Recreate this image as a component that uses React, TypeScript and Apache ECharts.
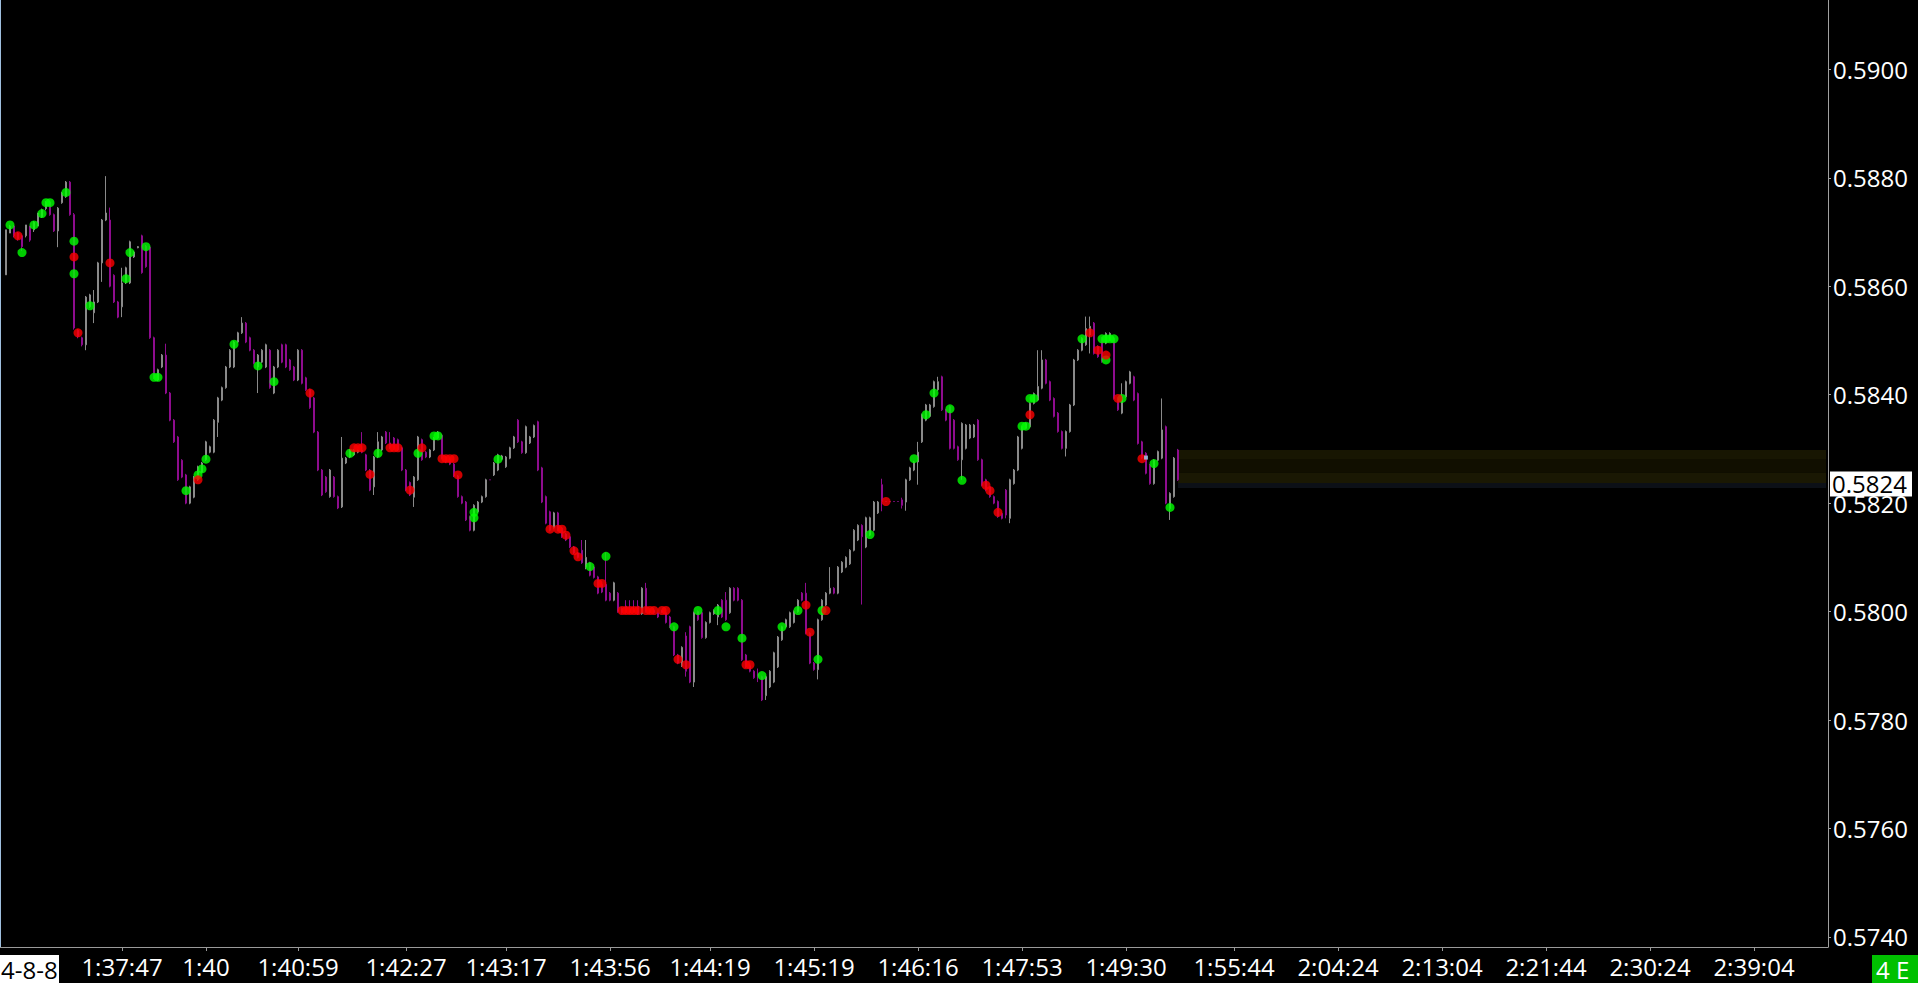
import React, { useEffect, useRef } from 'react';
import * as echarts from 'echarts';

// ---- data ----
const firstBar = 1;
const categoryCount = 457;

const opens = [
0.58621,0.58698,0.58711,0.58698,0.58693,0.58693,0.58711,0.58704,0.58711,0.58728,
0.58743,0.58755,0.58732,0.58702,0.58754,0.58765,0.58792,0.58732,0.58519,0.58505,
0.58492,0.58562,0.58551,0.58571,0.58643,0.58722,0.58722,0.58620,0.58571,0.58562,
0.58606,0.58606,0.58654,0.58671,0.58693,0.58674,0.58672,0.58505,0.58427,0.58451,
0.58473,0.58403,0.58353,0.58322,0.58279,0.58252,0.58200,0.58211,0.58243,0.58257,
0.58280,0.58294,0.58294,0.58349,0.58390,0.58413,0.58451,0.58451,0.58497,0.58514,
0.58532,0.58505,0.58482,0.58451,0.58460,0.58451,0.58482,0.58403,0.58451,0.58492,
0.58492,0.58464,0.58451,0.58427,0.58482,0.58431,0.58409,0.58394,0.58331,0.58261,
0.58248,0.58212,0.58248,0.58212,0.58193,0.58274,0.58285,0.58289,0.58294,0.58298,
0.58289,0.58261,0.58230,0.58285,0.58298,0.58331,0.58311,0.58320,0.58317,0.58302,
0.58261,0.58238,0.58211,0.58243,0.58317,0.58294,0.58285,0.58298,0.58320,0.58325,
0.58285,0.58281,0.58272,0.58250,0.58212,0.58202,0.58175,0.58150,0.58184,0.58202,
0.58212,0.58243,0.58252,0.58261,0.58281,0.58267,0.58283,0.58302,0.58353,0.58313,
0.58293,0.58311,0.58322,0.58350,0.58265,0.58212,0.58184,0.58154,0.58182,0.58154,
0.58143,0.58138,0.58119,0.58108,0.58113,0.58082,0.58090,0.58082,0.58064,0.58050,
0.58050,0.58034,0.58021,0.58034,0.58006,0.58010,0.58004,0.58004,0.58010,0.57996,
0.58043,0.58002,0.58002,0.57998,0.58001,0.57998,0.57990,0.57972,0.57920,0.57900,
0.57955,0.57972,0.57870,0.58000,0.57998,0.57952,0.57980,0.57996,0.57990,0.58021,
0.58021,0.57998,0.58043,0.58043,0.58021,0.57920,0.57900,0.57890,0.57885,0.57880,
0.57845,0.57861,0.57870,0.57898,0.57948,0.57972,0.57972,0.57980,0.58000,0.58034,
0.58034,0.57960,0.57905,0.57893,0.57985,0.58012,0.58034,0.58043,0.58034,0.58073,
0.58082,0.58088,0.58113,0.58132,0.58159,0.58119,0.58141,0.58150,0.58182,0.58234,
0.58203,0.58203,0.58203,0.58203,0.58206,0.58202,0.58243,0.58261,0.58276,0.58313,
0.58353,0.58360,0.58378,0.58409,0.58433,0.58372,0.58378,0.58353,0.58304,0.58280,
0.58301,0.58320,0.58322,0.58353,0.58280,0.58243,0.58230,0.58212,0.58203,0.58181,
0.58224,0.58172,0.58236,0.58261,0.58301,0.58338,0.58341,0.58384,0.58390,0.58412,
0.58464,0.58424,0.58393,0.58366,0.58332,0.58301,0.58332,0.58381,0.58464,0.58482,
0.58492,0.58510,0.58532,0.58489,0.58504,0.58495,0.58501,0.58504,0.58393,0.58366,
0.58396,0.58421,0.58433,0.58402,0.58313,0.58292,0.58270,0.58236,0.58279,0.58283,
0.58341,0.58190,0.58212,0.58298
];

const closes = [
0.58704,0.58711,0.58693,0.58687,0.58673,0.58713,0.58685,0.58718,0.58735,0.58741,
0.58755,0.58732,0.58702,0.58744,0.58772,0.58792,0.58732,0.58523,0.58507,0.58492,
0.58580,0.58584,0.58571,0.58643,0.58722,0.58735,0.58600,0.58571,0.58543,0.58606,
0.58634,0.58682,0.58663,0.58673,0.58625,0.58636,0.58505,0.58431,0.58446,0.58473,
0.58403,0.58353,0.58313,0.58243,0.58248,0.58200,0.58230,0.58248,0.58267,0.58274,
0.58313,0.58304,0.58353,0.58394,0.58413,0.58451,0.58482,0.58497,0.58514,0.58532,
0.58497,0.58482,0.58458,0.58473,0.58482,0.58492,0.58413,0.58451,0.58482,0.58460,
0.58451,0.58446,0.58427,0.58482,0.58421,0.58409,0.58376,0.58331,0.58261,0.58215,
0.58221,0.58261,0.58212,0.58191,0.58283,0.58283,0.58298,0.58298,0.58298,0.58294,
0.58261,0.58224,0.58285,0.58313,0.58322,0.58311,0.58302,0.58300,0.58298,0.58261,
0.58224,0.58215,0.58248,0.58322,0.58280,0.58285,0.58298,0.58320,0.58331,0.58283,
0.58276,0.58272,0.58250,0.58212,0.58200,0.58169,0.58150,0.58196,0.58202,0.58212,
0.58243,0.58243,0.58274,0.58289,0.58287,0.58285,0.58302,0.58322,0.58313,0.58293,
0.58341,0.58322,0.58343,0.58261,0.58202,0.58163,0.58150,0.58182,0.58150,0.58138,
0.58132,0.58119,0.58108,0.58100,0.58090,0.58100,0.58067,0.58063,0.58034,0.58036,
0.58021,0.58021,0.58053,0.58000,0.57998,0.57998,0.57998,0.58000,0.57996,0.58043,
0.58000,0.57998,0.57998,0.57990,0.57999,0.57980,0.57972,0.57920,0.57905,0.57934,
0.57890,0.57870,0.57998,0.57985,0.57952,0.57980,0.57998,0.58002,0.58012,0.57990,
0.57985,0.58043,0.58021,0.58021,0.57911,0.57898,0.57890,0.57878,0.57880,0.57837,
0.57880,0.57890,0.57924,0.57953,0.57972,0.57985,0.57998,0.58000,0.58021,0.58021,
0.57960,0.57905,0.57893,0.57985,0.58021,0.58034,0.58043,0.58034,0.58082,0.58091,
0.58100,0.58113,0.58150,0.58159,0.58138,0.58173,0.58173,0.58202,0.58202,0.58203,
0.58203,0.58203,0.58203,0.58203,0.58196,0.58243,0.58265,0.58276,0.58294,0.58363,
0.58381,0.58381,0.58424,0.58424,0.58372,0.58353,0.58301,0.58301,0.58280,0.58347,
0.58344,0.58344,0.58344,0.58280,0.58233,0.58224,0.58212,0.58200,0.58175,0.58172,
0.58178,0.58243,0.58261,0.58322,0.58341,0.58347,0.58384,0.58402,0.58415,0.58464,
0.58421,0.58390,0.58360,0.58332,0.58301,0.58332,0.58381,0.58464,0.58482,0.58504,
0.58522,0.58526,0.58476,0.58470,0.58461,0.58513,0.58513,0.58393,0.58372,0.58396,
0.58424,0.58442,0.58390,0.58310,0.58283,0.58255,0.58236,0.58279,0.58295,0.58335,
0.58200,0.58218,0.58283,0.58243
];

const lows = [
0.58621,0.58698,0.58690,0.58684,0.58665,0.58690,0.58682,0.58700,0.58711,0.58726,
0.58740,0.58730,0.58700,0.58672,0.58752,0.58763,0.58730,0.58520,0.58504,0.58489,
0.58482,0.58560,0.58532,0.58569,0.58608,0.58720,0.58598,0.58569,0.58541,0.58543,
0.58604,0.58604,0.58652,0.58670,0.58623,0.58634,0.58503,0.58429,0.58425,0.58449,
0.58401,0.58351,0.58311,0.58241,0.58246,0.58198,0.58198,0.58209,0.58241,0.58255,
0.58278,0.58292,0.58292,0.58322,0.58388,0.58411,0.58449,0.58449,0.58495,0.58512,
0.58495,0.58480,0.58456,0.58403,0.58458,0.58449,0.58411,0.58401,0.58449,0.58458,
0.58449,0.58444,0.58425,0.58425,0.58419,0.58407,0.58374,0.58329,0.58259,0.58213,
0.58219,0.58210,0.58210,0.58189,0.58191,0.58272,0.58283,0.58287,0.58292,0.58292,
0.58259,0.58222,0.58215,0.58283,0.58296,0.58309,0.58300,0.58298,0.58296,0.58259,
0.58222,0.58213,0.58193,0.58241,0.58278,0.58283,0.58283,0.58296,0.58318,0.58281,
0.58274,0.58270,0.58248,0.58210,0.58198,0.58167,0.58148,0.58148,0.58182,0.58200,
0.58210,0.58243,0.58250,0.58259,0.58279,0.58265,0.58281,0.58300,0.58311,0.58291,
0.58291,0.58309,0.58320,0.58259,0.58200,0.58161,0.58148,0.58152,0.58148,0.58136,
0.58130,0.58117,0.58106,0.58098,0.58088,0.58078,0.58065,0.58061,0.58032,0.58034,
0.58019,0.58019,0.58019,0.57998,0.57996,0.57996,0.57996,0.57998,0.57994,0.57994,
0.57998,0.57996,0.57996,0.57988,0.57997,0.57978,0.57970,0.57918,0.57903,0.57898,
0.57880,0.57868,0.57861,0.57983,0.57950,0.57950,0.57978,0.57994,0.57975,0.57988,
0.57983,0.57996,0.58019,0.58019,0.57909,0.57896,0.57888,0.57876,0.57870,0.57835,
0.57837,0.57859,0.57868,0.57896,0.57946,0.57970,0.57970,0.57978,0.57998,0.58019,
0.57958,0.57903,0.57891,0.57875,0.57983,0.58010,0.58032,0.58032,0.58032,0.58071,
0.58080,0.58086,0.58111,0.58130,0.58013,0.58117,0.58139,0.58148,0.58180,0.58185,
0.58203,0.58203,0.58203,0.58203,0.58190,0.58186,0.58241,0.58259,0.58234,0.58311,
0.58351,0.58358,0.58376,0.58407,0.58370,0.58351,0.58299,0.58299,0.58278,0.58243,
0.58299,0.58318,0.58320,0.58278,0.58231,0.58222,0.58210,0.58198,0.58173,0.58170,
0.58172,0.58163,0.58234,0.58259,0.58299,0.58336,0.58339,0.58382,0.58388,0.58410,
0.58419,0.58388,0.58358,0.58330,0.58299,0.58286,0.58330,0.58379,0.58462,0.58480,
0.58490,0.58476,0.58474,0.58468,0.58459,0.58493,0.58499,0.58391,0.58370,0.58364,
0.58394,0.58419,0.58388,0.58308,0.58281,0.58253,0.58234,0.58234,0.58277,0.58281,
0.58198,0.58169,0.58210,0.58241
];

const highs = [
0.58704,0.58713,0.58713,0.58700,0.58695,0.58713,0.58711,0.58720,0.58735,0.58743,
0.58757,0.58757,0.58734,0.58746,0.58774,0.58794,0.58794,0.58735,0.58521,0.58507,
0.58582,0.58586,0.58593,0.58645,0.58724,0.58803,0.58745,0.58622,0.58573,0.58634,
0.58636,0.58684,0.58665,0.58674,0.58695,0.58676,0.58674,0.58507,0.58448,0.58475,
0.58494,0.58405,0.58355,0.58324,0.58281,0.58254,0.58232,0.58250,0.58269,0.58276,
0.58315,0.58306,0.58355,0.58396,0.58415,0.58453,0.58484,0.58499,0.58516,0.58543,
0.58534,0.58507,0.58484,0.58475,0.58484,0.58494,0.58484,0.58453,0.58484,0.58494,
0.58494,0.58466,0.58453,0.58484,0.58484,0.58433,0.58411,0.58396,0.58333,0.58263,
0.58250,0.58263,0.58250,0.58214,0.58322,0.58285,0.58300,0.58300,0.58300,0.58331,
0.58291,0.58263,0.58287,0.58331,0.58324,0.58333,0.58331,0.58322,0.58319,0.58304,
0.58263,0.58240,0.58250,0.58324,0.58319,0.58296,0.58300,0.58322,0.58333,0.58327,
0.58287,0.58283,0.58274,0.58252,0.58214,0.58204,0.58177,0.58198,0.58204,0.58214,
0.58245,0.58243,0.58276,0.58291,0.58289,0.58287,0.58304,0.58324,0.58355,0.58315,
0.58343,0.58324,0.58345,0.58352,0.58267,0.58214,0.58186,0.58184,0.58184,0.58156,
0.58145,0.58140,0.58121,0.58110,0.58132,0.58132,0.58092,0.58084,0.58066,0.58052,
0.58109,0.58036,0.58055,0.58036,0.58008,0.58021,0.58021,0.58021,0.58021,0.58045,
0.58053,0.58004,0.58004,0.58000,0.58003,0.58000,0.57992,0.57974,0.57922,0.57936,
0.57962,0.57974,0.58000,0.58002,0.58000,0.57982,0.58000,0.58004,0.58014,0.58023,
0.58036,0.58045,0.58045,0.58045,0.58023,0.57922,0.57902,0.57892,0.57895,0.57882,
0.57882,0.57892,0.57926,0.57955,0.57974,0.57987,0.58000,0.58002,0.58023,0.58036,
0.58053,0.57962,0.57907,0.57987,0.58023,0.58036,0.58082,0.58045,0.58084,0.58093,
0.58102,0.58115,0.58152,0.58161,0.58161,0.58175,0.58175,0.58204,0.58204,0.58245,
0.58203,0.58203,0.58203,0.58203,0.58210,0.58245,0.58267,0.58278,0.58313,0.58365,
0.58383,0.58383,0.58426,0.58433,0.58435,0.58374,0.58380,0.58355,0.58306,0.58349,
0.58346,0.58346,0.58346,0.58355,0.58282,0.58245,0.58232,0.58214,0.58205,0.58183,
0.58226,0.58245,0.58263,0.58324,0.58343,0.58349,0.58386,0.58404,0.58482,0.58482,
0.58466,0.58426,0.58395,0.58368,0.58334,0.58334,0.58383,0.58466,0.58484,0.58506,
0.58544,0.58544,0.58534,0.58491,0.58506,0.58515,0.58515,0.58506,0.58395,0.58421,
0.58426,0.58444,0.58435,0.58404,0.58315,0.58294,0.58272,0.58281,0.58297,0.58393,
0.58343,0.58220,0.58285,0.58300
];

const greenIdx = [2,5,8,10,11,12,16,18,18,22,31,32,36,38,39,46,49,50,51,58,64,68,87,94,104,108,109,118,118,124,
  147,151,168,174,179,181,185,190,195,199,204,205,217,228,231,233,237,240,255,256,257,258,270,275,276,277,278,276,280,288,292];
const greenVal = [0.58713,0.58662,0.58713,0.58734,0.58754,0.58754,0.58773,0.58683,0.58623,0.58564,0.58614,0.58662,0.58673,0.58432,0.58432,
  0.58223,0.58252,0.58263,0.58281,0.58493,0.58453,0.58424,0.58292,0.58292,0.58292,0.58324,0.58324,0.58183,0.58173,0.58281,
  0.58083,0.58102,0.57972,0.58002,0.58002,0.57972,0.57951,0.57882,0.57972,0.58002,0.57912,0.58002,0.58142,0.58282,0.58363,
  0.58403,0.58374,0.58242,0.58342,0.58342,0.58393,0.58393,0.58503,0.58503,0.58503,0.58503,0.58503,0.58464,0.58393,0.58273,0.58192];

const redIdx = [4,18,19,27,49,77,88,89,90,92,97,98,99,102,105,110,111,112,113,114,137,139,140,141,143,144,149,150,
  155,156,157,158,159,161,162,163,165,166,169,171,186,187,201,202,206,221,246,247,249,257,272,274,276,279,285];
const redVal = [0.58693,0.58654,0.58514,0.58643,0.58243,0.58403,0.58302,0.58302,0.58302,0.58253,0.58302,0.58302,0.58302,0.58224,0.58302,
  0.58282,0.58282,0.58282,0.58282,0.58252,0.58152,0.58152,0.58152,0.58141,0.58112,0.58101,0.58052,0.58052,
  0.58002,0.58002,0.58002,0.58002,0.58002,0.58002,0.58002,0.58002,0.58002,0.58002,0.57912,0.57902,0.57902,0.57902,0.58012,0.57962,0.58002,
  0.58203,0.58233,0.58223,0.58183,0.58363,0.58514,0.58482,0.58473,0.58393,0.58282];

const markerIdx = [286];
const markerVal = [0.58284];

const timeLabels = ['1:37:47','1:40','1:40:59','1:42:27','1:43:17','1:43:56','1:44:19','1:45:19','1:46:16',
  '1:47:53','1:49:30','1:55:44','2:04:24','2:13:04','2:21:44','2:30:24','2:39:04'];
const timeLabelIdx = [30,51,74,101,126,152,177,203,229,255,281,308,334,360,386,412,438];

const priceTicks = [0.574,0.576,0.578,0.58,0.582,0.584,0.586,0.588,0.59];
const axisMin = 0.573815;
const axisMax = 0.591278;
const lastPrice = [0.5824];
const bandStartIdx = 294;
const bandEdges = [0.58298, 0.58280, 0.58256, 0.58237, 0.58228];
const bandColors = ['#181602', '#110f00', '#1a1803', '#0c1017'];
const dateStub = '4-8-8';
const cornerTag = '4 E';

const FONT = '"Open Sans", "Noto Sans", sans-serif';
const GRID_RIGHT = 90;

export default function App() {
  const ref = useRef<HTMLDivElement>(null);
  useEffect(() => {
    document.body.style.margin = '0';
    document.body.style.background = '#000';
    const chart = echarts.init(ref.current as HTMLDivElement, null, { renderer: 'svg' });

    const labelPos = new Map<number, string>();
    timeLabelIdx.forEach((ix, k) => labelPos.set(ix, timeLabels[k]));
    const categories: string[] = [];
    for (let i = 0; i < categoryCount; i++) categories.push(labelPos.has(i) ? (labelPos.get(i) as string) : 'c' + i);

    const candleData: any[] = [];
    for (let i = 0; i < categoryCount; i++) {
      const k = i - firstBar;
      if (k >= 0 && k < opens.length) candleData.push([opens[k], closes[k], lows[k], highs[k]]);
      else candleData.push('-');
    }
    const greenData = greenIdx.map((ix, k) => [ix, greenVal[k]]);
    const redData = redIdx.map((ix, k) => [ix, redVal[k]]);
    const markerData = markerIdx.map((ix, k) => [ix, markerVal[k]]);

    const bandAreas = bandColors.map((c, k) => [
      { xAxis: categories[bandStartIdx], yAxis: bandEdges[k], itemStyle: { color: c } },
      { xAxis: categories[categoryCount - 1], yAxis: bandEdges[k + 1] },
    ]);

    const showLabel = (i: number) => labelPos.has(i);

    chart.setOption({
      animation: false,
      backgroundColor: '#000',
      grid: { left: 0, top: 0, right: GRID_RIGHT, bottom: 36, containLabel: false },
      xAxis: {
        type: 'category',
        data: categories,
        boundaryGap: true,
        axisLine: { show: true, lineStyle: { color: '#9a9a9a', width: 1 } },
        axisTick: { show: true, alignWithLabel: true, interval: showLabel, length: 4, lineStyle: { color: '#9a9a9a' } },
        axisLabel: {
          interval: showLabel,
          color: '#ffffff',
          fontFamily: FONT,
          fontSize: 24,
          margin: 7,
        },
        splitLine: { show: false },
      },
      yAxis: {
        type: 'value',
        position: 'right',
        min: axisMin,
        max: axisMax,
        scale: true,
        axisLine: { show: true, lineStyle: { color: '#a0a0a0', width: 1 } },
        axisTick: { show: true, length: 3, customValues: priceTicks, lineStyle: { color: '#a0a0a0' } },
        axisLabel: {
          customValues: priceTicks,
          formatter: (v: number) => v.toFixed(4),
          color: '#ffffff',
          fontFamily: FONT,
          fontSize: 24,
          margin: 5,
        },
        splitLine: { show: false },
      },
      series: [
        {
          type: 'candlestick',
          data: candleData,
          barWidth: 2,
          itemStyle: {
            color: '#8a8a8a',
            color0: '#8e0c8e',
            borderColor: '#8a8a8a',
            borderColor0: '#8e0c8e',
            borderColorDoji: '#8e0c8e',
            borderWidth: 1,
          },
          markArea: { silent: true, data: bandAreas },
          z: 2,
        },
        {
          type: 'scatter',
          data: greenData,
          symbol: 'circle',
          symbolSize: 9,
          itemStyle: { color: '#00ff00' },
          z: 5,
        },
        {
          type: 'scatter',
          data: redData,
          symbol: 'circle',
          symbolSize: 9,
          itemStyle: { color: '#ff0000' },
          z: 6,
        },
        {
          type: 'scatter',
          data: markerData,
          symbol: 'rect',
          symbolSize: 4,
          itemStyle: { color: '#9ad0f0' },
          z: 7,
        },
      ],
    });

    const axisX = 1918 - GRID_RIGHT;
    const lastY = chart.convertToPixel({ yAxisIndex: 0 }, lastPrice[0]) as number;

    chart.setOption({
      graphic: [
        { type: 'rect', left: 0, top: 0, shape: { width: 1, height: 947 }, style: { fill: '#9fbfdf' }, silent: true },
        { type: 'rect', left: 0, top: 955, shape: { width: 59, height: 28 }, style: { fill: '#ffffff' }, silent: true },
        {
          type: 'text', x: 1, y: 969,
          style: { text: dateStub, fill: '#000', fontFamily: FONT, fontSize: 24, align: 'left', verticalAlign: 'middle' },
          silent: true,
        },
        { type: 'rect', left: 1872, top: 955, shape: { width: 46, height: 28 }, style: { fill: '#00c000' }, silent: true },
        {
          type: 'text', x: 1876, y: 969,
          style: { text: cornerTag, fill: '#fff', fontFamily: FONT, fontSize: 24, align: 'left', verticalAlign: 'middle' },
          silent: true,
        },
        {
          type: 'rect', x: axisX + 2, y: lastY - 10, z: 100,
          shape: { width: 82, height: 25 }, style: { fill: '#ffffff' }, silent: true,
        },
        {
          type: 'text', x: axisX + 4, y: lastY + 2.5, z: 101,
          style: { text: lastPrice[0].toFixed(4), fill: '#000', fontFamily: FONT, fontSize: 24, align: 'left', verticalAlign: 'middle' },
          silent: true,
        },
      ],
    });
    return () => chart.dispose();
  }, []);
  return <div ref={ref} style={{ width: 1918, height: 983 }} />;
}
